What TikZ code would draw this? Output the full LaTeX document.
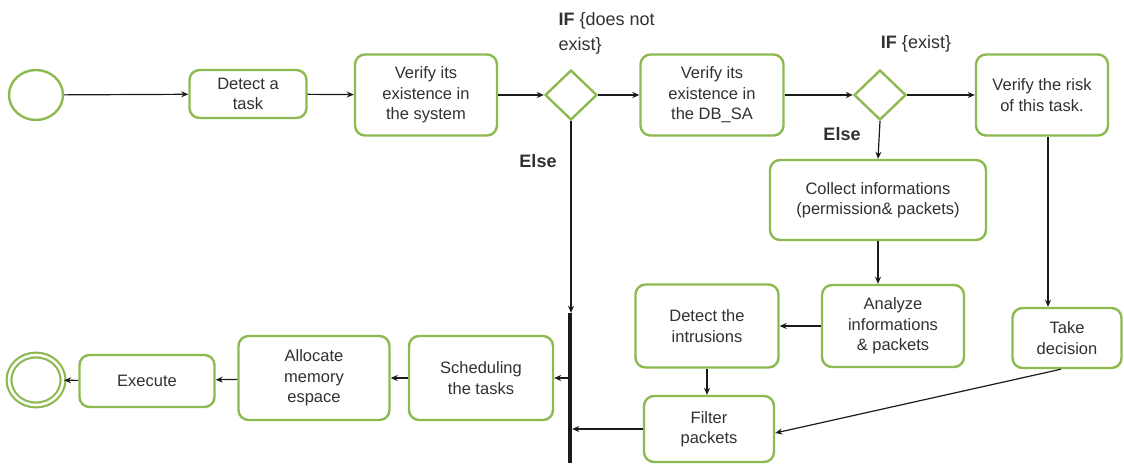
\documentclass[tikz,border=0pt]{standalone}
\usepackage{fontspec}
\setmainfont{Liberation Sans}
\usepackage{xcolor}
\usepackage{tikz}
\usetikzlibrary{positioning,arrows.meta,shapes.geometric}
\definecolor{leaf}{HTML}{8CBA51}
\definecolor{ink}{HTML}{1A1A1A}

\begin{document}
\begin{tikzpicture}[x=1pt, y=-1pt, every node/.style={font=\fontsize{16.5}{20.5}\selectfont, text=ink!90},
      box/.style={draw=leaf, line width=2.4pt, rounded corners=10pt, fill=white, align=center, inner sep=2pt},
      gate/.style={draw=leaf, line width=2.4pt, diamond, minimum width=52pt, minimum height=50pt, inner sep=0pt},
      event/.style={draw=leaf, line width=2.4pt, ellipse, minimum width=54pt, minimum height=50pt, inner sep=0pt},
      flow/.style={draw=ink, line width=1.2pt, -{Stealth[length=7pt, width=6pt]}},
      cond/.style={font=\fontsize{18}{25}\selectfont, align=left}]
    \useasboundingbox (0,0) rectangle (1124,463);
    % top row
    \node[event] (start) at (36,95) {};
    \node[box, minimum width=117pt, minimum height=48pt] (detect) at (248,94) {Detect a\\task};
    \node[box, minimum width=142pt, minimum height=81pt] (sys) at (426,95) {Verify its\\existence in\\the system};
    \node[gate] (d1) at (571,95) {};
    \node[box, minimum width=143pt, minimum height=81pt] (dbsa) at (712,95) {Verify its\\existence in\\the DB\_SA};
    \node[gate] (d2) at (880,95) {};
    \node[box, minimum width=132pt, minimum height=81pt] (risk) at (1042,95) {Verify the risk\\of this task.};
    % conditions
    \node[cond, anchor=north west] (ifnot) at (555,9) {\textbf{IF} \{does not\\exist\}};
    \node[cond] (ifyes) at (916,44) {\textbf{IF} \{exist\}};
    \node[cond] (else1) at (538,161) {\textbf{Else}};
    \node[cond] (else2) at (842,134) {\textbf{Else}};
    % middle
    \node[box, minimum width=216pt, minimum height=80pt] (collect) at (878,200) {Collect informations\\(permission\& packets)};
    \node[box, minimum width=142pt, minimum height=82pt] (analyze) at (893,326) {Analyze\\informations\\\& packets};
    \node[box, minimum width=143pt, minimum height=83pt] (intr) at (707,326) {Detect the\\intrusions};
    \node[box, minimum width=109pt, minimum height=60pt] (take) at (1067,338) {Take\\decision};
    \node[box, minimum width=130pt, minimum height=66pt] (filter) at (709,429) {Filter\\packets};
    % join bar and bottom row
    \node[fill=ink, minimum width=4pt, minimum height=150pt, inner sep=0pt] (bar) at (570,388) {};
    \node[box, minimum width=144pt, minimum height=84pt] (sched) at (481,378) {Scheduling\\the tasks};
    \node[box, minimum width=151pt, minimum height=84pt] (alloc) at (314,378) {Allocate\\memory\\espace};
    \node[box, minimum width=135pt, minimum height=52pt] (exec) at (147,381) {Execute};
    \node[event, double=white, double distance=2.5pt, line width=2.2pt] (stop) at (36,380) {};
    % connectors
    \draw[flow] (start) -- (detect);
    \draw[flow] (detect) -- (sys);
    \draw[flow] (sys) -- (d1);
    \draw[flow] (d1) -- (dbsa);
    \draw[flow] (dbsa) -- (d2);
    \draw[flow] (d2) -- (risk);
    \draw[flow] (d2.south) -- (collect.north);
    \draw[flow] (collect.south) -- (collect.south |- analyze.north);
    \draw[flow] (analyze.west) -- (intr.east);
    \draw[flow] (intr.south) -- (intr.south |- filter.north);
    \draw[flow] ([xshift=6pt]risk.south) -- ([xshift=6pt]risk.south |- take.north);
    \draw[flow] ([xshift=-6pt]take.south) -- ([yshift=-4pt]filter.east);
    \draw[flow] (d1.south) -- (d1.south |- bar.north);
    \draw[flow] (bar.west |- sched.east) -- (sched.east);
    \draw[flow] (filter.west) -- (filter.west -| bar.east);
    \draw[flow] (sched) -- (alloc);
    \draw[flow] (alloc) -- (exec);
    \draw[flow] (exec) -- (stop);
\end{tikzpicture}
\end{document}
